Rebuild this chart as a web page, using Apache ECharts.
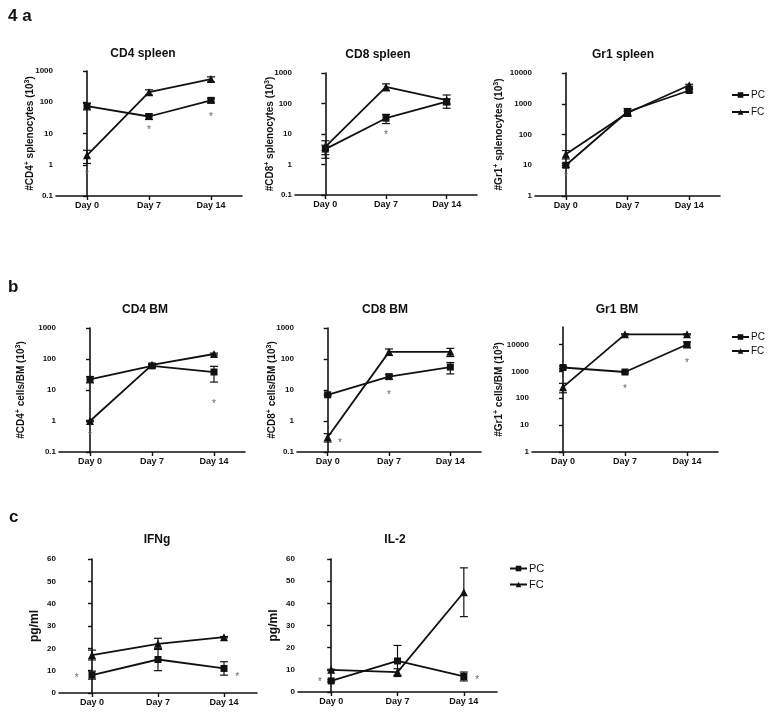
<!DOCTYPE html>
<html><head><meta charset="utf-8">
<script src="https://cdn.jsdelivr.net/npm/echarts@6/dist/echarts.min.js"></script>
<style>html,body{margin:0;padding:0;background:#fff}#c{width:768px;height:716px}</style>
</head><body><div id="c"></div>
<script>
const days = ['Day 0', 'Day 7', 'Day 14'];
// a: spleen
const cd4SpPC = [75, 35, 115], cd4SpPCErr = [18, 7, 20];
const cd4SpFC = [2, 210, 550], cd4SpFCErr = [0.9, 40, 100];
const cd4SpStars = [[0, 0.45], [1, 13], [2, 33]];
const cd8SpPC = [3.2, 33, 115], cd8SpPCErr = [1.1, 11, 25];
const cd8SpFC = [3.8, 350, 130], cd8SpFCErr = [2.2, 90, 60];
const cd8SpStars = [[1, 9]];
const gr1SpPC = [10, 550, 2700], gr1SpPCErr = [1.5, 150, 300];
const gr1SpFC = [23, 500, 4000], gr1SpFCErr = [7, 80, 300];
const gr1SpStars = [[0, 4]];
// b: bone marrow
const cd4BmPC = [22, 60, 38], cd4BmPCErr = [5, 6, 20];
const cd4BmFC = [1, 65, 145], cd4BmFCErr = [0.05, 5, 10];
const cd4BmStars = [[0, 0.33], [2, 3.5]];
const cd8BmPC = [7, 27, 55], cd8BmPCErr = [0.5, 5, 22];
const cd8BmFC = [0.3, 170, 170], cd8BmFCErr = [0.09, 40, 50];
const cd8BmStars = [[0.2, 0.19], [1, 7]];
const gr1BmPC = [1400, 950, 10000], gr1BmPCErr = [150, 80, 2500];
const gr1BmFC = [260, 24000, 24000], gr1BmFCErr = [100, 1000, 1000];
const gr1BmStars = [[1, 220], [2, 2000]];
// c: cytokines
const ifngPC = [8, 15, 11], ifngPCErr = [1.8, 5, 3];
const ifngFC = [17, 22, 25], ifngFCErr = [2.2, 2.5, 0.3];
const ifngStars = [[-0.23, 6.7], [2.2, 7.2]];
const il2PC = [5, 14, 7], il2PCErr = [0.5, 7, 2];
const il2FC = [10, 9, 45], il2FCErr = [0.3, 1.5, 11];
const il2Stars = [[-0.17, 4.5], [2.2, 5.4]];
// tick labels
const ticks01to1000 = [0.1, 1, 10, 100, 1000];
const ticks1to10000 = [1, 10, 100, 1000, 10000];
const ticks0to60 = [0, 10, 20, 30, 40, 50, 60];

const FONT = '"Liberation Sans", Arial, sans-serif';

const panels = [
  {title: 'CD4 spleen', pc: cd4SpPC, pcE: cd4SpPCErr, fc: cd4SpFC, fcE: cd4SpFCErr, stars: cd4SpStars,
   log: true, min: 0.1, max: 1000, ticks: ticks01to1000, name: ['#CD4', 'splenocytes'], grid: [56, 71, 186, 125], gap: 20, tx: 143, ty: 55},
  {title: 'CD8 spleen', pc: cd8SpPC, pcE: cd8SpPCErr, fc: cd8SpFC, fcE: cd8SpFCErr, stars: cd8SpStars,
   log: true, min: 0.1, max: 1000, ticks: ticks01to1000, name: ['#CD8', 'splenocytes'], grid: [295, 73, 182, 122], gap: 19, tx: 378, ty: 56},
  {title: 'Gr1 spleen', pc: gr1SpPC, pcE: gr1SpPCErr, fc: gr1SpFC, fcE: gr1SpFCErr, stars: gr1SpStars,
   log: true, min: 1, max: 10000, ticks: ticks1to10000, name: ['#Gr1', 'splenocytes'], grid: [535, 73, 185, 123], gap: 30, tx: 623, ty: 56},
  {title: 'CD4 BM', pc: cd4BmPC, pcE: cd4BmPCErr, fc: cd4BmFC, fcE: cd4BmFCErr, stars: cd4BmStars,
   log: true, min: 0.1, max: 1000, ticks: ticks01to1000, name: ['#CD4', 'cells/BM'], grid: [59, 328, 186, 124], gap: 32, tx: 145, ty: 311},
  {title: 'CD8 BM', pc: cd8BmPC, pcE: cd8BmPCErr, fc: cd8BmFC, fcE: cd8BmFCErr, stars: cd8BmStars,
   log: true, min: 0.1, max: 1000, ticks: ticks01to1000, name: ['#CD8', 'cells/BM'], grid: [297, 328, 184, 124], gap: 19, tx: 385, ty: 311},
  {title: 'Gr1 BM', pc: gr1BmPC, pcE: gr1BmPCErr, fc: gr1BmFC, fcE: gr1BmFCErr, stars: gr1BmStars,
   log: true, min: 1, max: 45000, ticks: ticks1to10000, name: ['#Gr1', 'cells/BM'], grid: [532, 327, 186, 125], gap: 27, tx: 617, ty: 311},
  {title: 'IFNg', pc: ifngPC, pcE: ifngPCErr, fc: ifngFC, fcE: ifngFCErr, stars: ifngStars,
   log: false, min: 0, max: 60, ticks: ticks0to60, name: null, grid: [59, 559, 198, 134], gap: 18, tx: 157, ty: 541},
  {title: 'IL-2', pc: il2PC, pcE: il2PCErr, fc: il2FC, fcE: il2FCErr, stars: il2Stars,
   log: false, min: 0, max: 60, ticks: ticks0to60, name: null, grid: [298, 559, 199, 133], gap: 18, tx: 395, ty: 541}
];

const option = {
  backgroundColor: '#fff',
  animation: false,
  textStyle: {fontFamily: FONT},
  title: [], grid: [], xAxis: [], yAxis: [], series: [],
  legend: []
};

[['4 a', 8, 8], ['b', 8, 279], ['c', 9, 509]].forEach(([t, x, y]) => {
  option.title.push({text: t, left: x, top: y, padding: 0,
    textStyle: {fontFamily: FONT, fontSize: 17, fontWeight: 'bold', color: '#111'}});
});

function errRender(params, api) {
  const x = api.value(0), v = api.value(1), e = api.value(2);
  const top = api.coord([x, v + e]);
  const bot = api.coord([x, Math.max(v - e, 1e-6)]);
  const hw = 4;
  const st = {stroke: '#111', lineWidth: 1.2};
  return {type: 'group', children: [
    {type: 'line', shape: {x1: top[0], y1: top[1], x2: bot[0], y2: bot[1]}, style: st},
    {type: 'line', shape: {x1: top[0] - hw, y1: top[1], x2: top[0] + hw, y2: top[1]}, style: st},
    {type: 'line', shape: {x1: bot[0] - hw, y1: bot[1], x2: bot[0] + hw, y2: bot[1]}, style: st}
  ]};
}
function starRender(params, api) {
  const p = api.coord([api.value(0), api.value(1)]);
  return {type: 'text', x: p[0], y: p[1],
    style: {text: '*', fill: '#666', fontSize: 10, fontFamily: FONT, align: 'center', verticalAlign: 'middle'}};
}
function numLabel(v) {
  return v < 1 ? String(+v.toFixed(3)) : String(Math.round(v));
}

panels.forEach((p, i) => {
  const [l, t, w, h] = p.grid;
  option.grid.push({left: l, top: t, width: w, height: h, containLabel: false});
  option.title.push({text: p.title, left: p.tx, top: p.ty - 7, textAlign: 'center', padding: 0,
    textStyle: {fontFamily: FONT, fontSize: 12, fontWeight: 'bold', color: '#111'}});
  const axisLine = {show: true, lineStyle: {color: '#111', width: 1.6}};
  option.xAxis.push({type: 'category', gridIndex: i, data: days, boundaryGap: true,
    axisLine, axisTick: {show: true, alignWithLabel: true, length: 4, lineStyle: {color: '#111', width: 1.4}},
    axisLabel: {fontSize: 9, fontWeight: 'bold', color: '#111', margin: 5, fontFamily: FONT},
    splitLine: {show: false}});
  option.xAxis.push({type: 'value', gridIndex: i, min: -0.5, max: 2.5, show: false});
  let nameRich = null, nameText = '';
  if (p.name) {
    nameText = '{a|' + p.name[0] + '}{s|+}{a| ' + p.name[1] + ' (10}{s|3}{a|)}';
    nameRich = {a: {fontSize: 10, fontWeight: 'bold', color: '#111', fontFamily: FONT, lineHeight: 12},
                s: {fontSize: 7, fontWeight: 'bold', color: '#111', fontFamily: FONT, verticalAlign: 'top', lineHeight: 12}};
  } else {
    nameText = '{a|pg/ml}';
    nameRich = {a: {fontSize: 12, fontWeight: 'bold', color: '#111', fontFamily: FONT}};
  }
  const y = {gridIndex: i, min: p.min, max: p.max,
    axisLine,
    axisTick: {show: true, length: 4, customValues: p.ticks, lineStyle: {color: '#111', width: 1.4}},
    axisLabel: {fontSize: 8, fontWeight: 'bold', color: '#111', margin: 3, fontFamily: FONT,
      customValues: p.ticks, formatter: numLabel},
    splitLine: {show: false}, minorTick: {show: false},
    name: nameText, nameLocation: 'middle', nameGap: p.gap, nameRotate: 90, nameMoveOverlap: false,
    nameTextStyle: {rich: nameRich}};
  if (p.log) { y.type = 'log'; y.logBase = 10; }
  else { y.type = 'value'; y.interval = 10; }
  option.yAxis.push(y);
  const xi = i * 2;
  option.series.push({name: 'PC', type: 'line', xAxisIndex: xi, yAxisIndex: i, data: p.pc,
    symbol: 'rect', symbolSize: 7, lineStyle: {color: '#111', width: 1.8}, itemStyle: {color: '#111'}, z: 3});
  option.series.push({name: 'FC', type: 'line', xAxisIndex: xi, yAxisIndex: i, data: p.fc,
    symbol: 'triangle', symbolSize: 8, lineStyle: {color: '#111', width: 1.8}, itemStyle: {color: '#111'}, z: 3});
  option.series.push({type: 'custom', xAxisIndex: xi, yAxisIndex: i, renderItem: errRender, z: 2,
    data: p.pc.map((v, k) => [k, v, p.pcE[k]]).concat(p.fc.map((v, k) => [k, v, p.fcE[k]]))});
  option.series.push({type: 'custom', xAxisIndex: xi + 1, yAxisIndex: i, renderItem: starRender, z: 4,
    data: p.stars});
});

const legStyle = {orient: 'vertical', itemWidth: 17, itemHeight: 7, padding: 0,
  textStyle: {fontSize: 10, color: '#111', fontFamily: FONT, padding: [0, 0, 0, -3]}, data: ['PC', 'FC'], selectedMode: false};
option.legend.push(Object.assign({}, legStyle, {left: 731, top: 90, itemGap: 7}));
option.legend.push(Object.assign({}, legStyle, {left: 731, top: 332, itemGap: 4}));
option.legend.push(Object.assign({}, legStyle, {left: 509, top: 563, itemGap: 5,
  textStyle: {fontSize: 11, color: '#111', fontFamily: FONT, padding: [0, 0, 0, -3]}}));

const chart = echarts.init(document.getElementById('c'), null, {renderer: 'canvas'});
chart.setOption(option);
</script></body></html>
